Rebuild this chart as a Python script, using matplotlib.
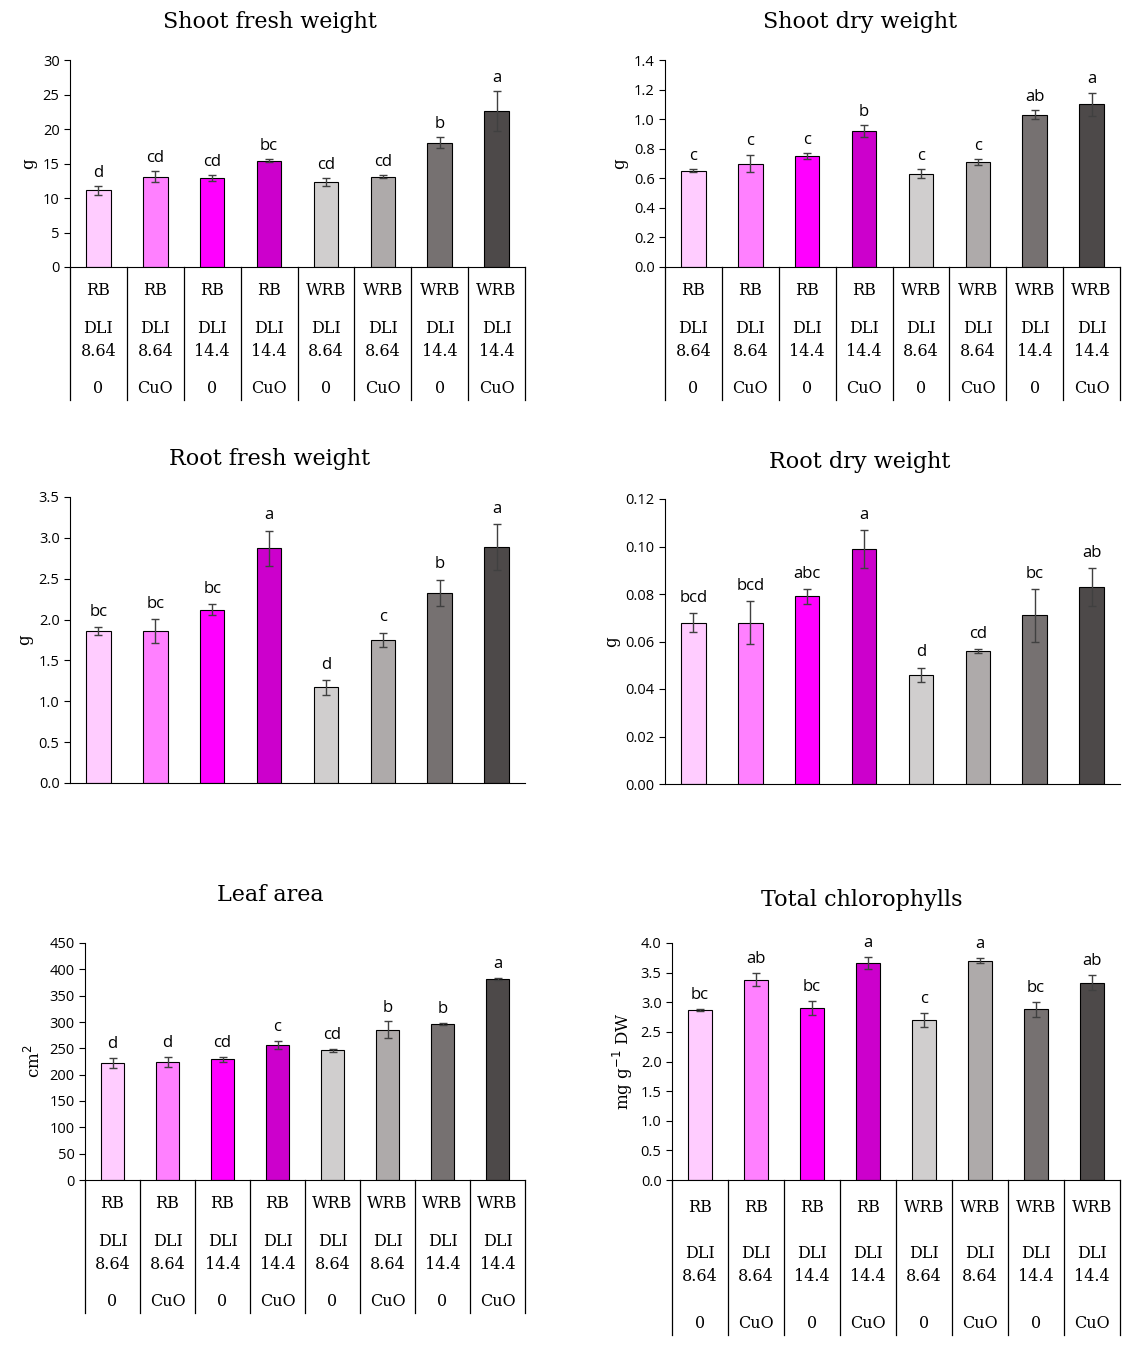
import matplotlib
matplotlib.use("Agg")
import matplotlib.pyplot as plt
import matplotlib.transforms as mtransforms

W, H = 1136, 1347

groups = ["RB", "RB", "RB", "RB", "WRB", "WRB", "WRB", "WRB"]
dli = ["DLI\n8.64", "DLI\n8.64", "DLI\n14.4", "DLI\n14.4", "DLI\n8.64", "DLI\n8.64", "DLI\n14.4", "DLI\n14.4"]
treat = ["0", "CuO", "0", "CuO", "0", "CuO", "0", "CuO"]
colors = ["#FFCCFF", "#FF80FF", "#FF00FF", "#CC00CC", "#D0CECE", "#AEAAAA", "#767171", "#4D4949"]

shoot_fw = [11.1, 13.1, 12.9, 15.4, 12.3, 13.1, 18.0, 22.6]
shoot_fw_err = [0.6, 0.8, 0.4, 0.2, 0.6, 0.2, 0.8, 2.9]
shoot_fw_let = ["d", "cd", "cd", "bc", "cd", "cd", "b", "a"]

shoot_dw = [0.65, 0.70, 0.75, 0.92, 0.63, 0.71, 1.03, 1.10]
shoot_dw_err = [0.01, 0.06, 0.02, 0.04, 0.03, 0.02, 0.03, 0.08]
shoot_dw_let = ["c", "c", "c", "b", "c", "c", "ab", "a"]

root_fw = [1.86, 1.86, 2.12, 2.87, 1.17, 1.75, 2.33, 2.89]
root_fw_err = [0.05, 0.15, 0.07, 0.22, 0.09, 0.09, 0.16, 0.28]
root_fw_let = ["bc", "bc", "bc", "a", "d", "c", "b", "a"]

root_dw = [0.068, 0.068, 0.079, 0.099, 0.046, 0.056, 0.071, 0.083]
root_dw_err = [0.004, 0.009, 0.003, 0.008, 0.003, 0.001, 0.011, 0.008]
root_dw_let = ["bcd", "bcd", "abc", "a", "d", "cd", "bc", "ab"]

leaf_area = [222, 224, 229, 256, 246, 285, 296, 381]
leaf_area_err = [9, 10, 4, 8, 3, 16, 2, 2]
leaf_area_let = ["d", "d", "cd", "c", "cd", "b", "b", "a"]

chl = [2.87, 3.38, 2.90, 3.66, 2.70, 3.70, 2.88, 3.33]
chl_err = [0.02, 0.11, 0.12, 0.10, 0.12, 0.04, 0.13, 0.13]
chl_let = ["bc", "ab", "bc", "a", "c", "a", "bc", "ab"]

SERIF = "DejaVu Serif"
SANS = "Open Sans"

fig = plt.figure(figsize=(W / 100, H / 100), dpi=100)


def panel(box, vals, errs, lets, title, title_xy, ylabel, ymax, step, fmt, table_bottom=None):
    x0, ytop, x1, ybot = box
    ax = fig.add_axes([x0 / W, 1 - ybot / H, (x1 - x0) / W, (ybot - ytop) / H])
    pos = range(len(vals))
    ax.bar(pos, vals, width=0.43, color=colors, edgecolor="black", linewidth=0.8, zorder=2)
    ax.errorbar(pos, vals, yerr=errs, fmt="none", ecolor="#404040", elinewidth=1, capsize=3, zorder=3)
    off = ymax * 0.025
    for p, v, e, l in zip(pos, vals, errs, lets):
        ax.text(p, v + e + off, l, ha="center", va="bottom", fontsize=12, family=SANS)
    ax.set_xlim(-0.5, len(vals) - 0.5)
    ax.set_ylim(0, ymax)
    ticks = [i * step for i in range(int(round(ymax / step)) + 1)]
    ax.set_yticks(ticks)
    ax.set_yticklabels([fmt.format(t) for t in ticks], fontsize=10.5, family=SANS)
    for s in ["top", "right"]:
        ax.spines[s].set_visible(False)
    ax.set_xticks([])
    ax.tick_params(axis="y", direction="out", length=4)
    ax.set_ylabel(ylabel, fontsize=12, family=SERIF)
    fig.text(title_xy[0] / W, 1 - title_xy[1] / H, title, fontsize=16, family=SERIF,
             ha="center", va="center")
    if table_bottom is not None:
        hpx = ybot - ytop
        tdepth = table_bottom - ybot
        depth = tdepth / hpx
        tr = mtransforms.blended_transform_factory(ax.transData, ax.transAxes)
        for b in [i - 0.5 for i in range(len(vals) + 1)]:
            ax.plot([b, b], [0, -depth], color="black", lw=0.9, transform=tr, clip_on=False)
        for p in pos:
            ax.text(p, -0.18 * tdepth / hpx, groups[p], transform=tr, ha="center", va="center",
                    fontsize=11.5, family=SERIF)
            ax.text(p, -0.55 * tdepth / hpx, dli[p], transform=tr, ha="center", va="center",
                    fontsize=11.5, family=SERIF, linespacing=1.45)
            ax.text(p, -(tdepth - 11) / hpx, treat[p], transform=tr, ha="center", va="center",
                    fontsize=11.5, family=SERIF)
    return ax


panel((70, 60, 525, 267), shoot_fw, shoot_fw_err, shoot_fw_let, "Shoot fresh weight", (270, 22),
      "g", 30, 5, "{:.0f}", 400)
panel((665, 60, 1120, 267), shoot_dw, shoot_dw_err, shoot_dw_let, "Shoot dry weight", (860, 22),
      "g", 1.4, 0.2, "{:.1f}", 400)
panel((70, 497, 525, 783), root_fw, root_fw_err, root_fw_let, "Root fresh weight", (270, 459),
      "g", 3.5, 0.5, "{:.1f}")
panel((665, 499, 1120, 784), root_dw, root_dw_err, root_dw_let, "Root dry weight", (860, 462),
      "g", 0.12, 0.02, "{:.2f}")
panel((85, 943, 525, 1180), leaf_area, leaf_area_err, leaf_area_let, "Leaf area", (270, 895),
      "cm$^2$", 450, 50, "{:.0f}", 1313)
panel((672, 943, 1120, 1180), chl, chl_err, chl_let, "Total chlorophylls", (862, 900),
      "mg g$^{-1}$ DW", 4.0, 0.5, "{:.1f}", 1335)

fig.savefig("out.png", dpi=100)
